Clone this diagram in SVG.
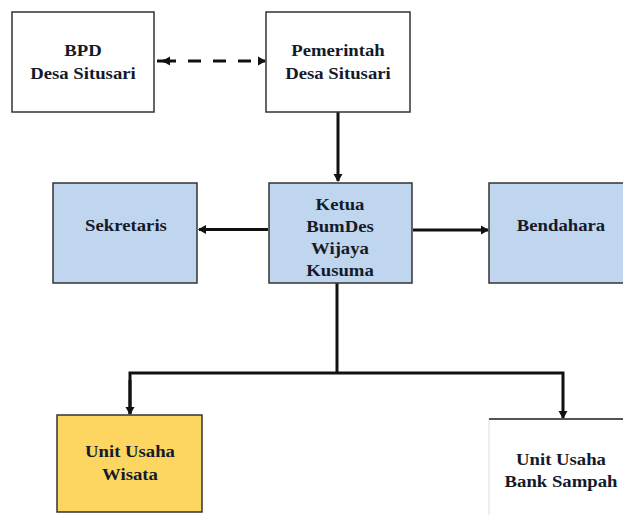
<svg xmlns="http://www.w3.org/2000/svg" width="623" height="515" viewBox="0 0 623 515">
<style>
.box{stroke:#333;stroke-width:1.5}
.w{fill:#fff}
.b{fill:#c0d6ee}
.y{fill:#fdd561}
.t text{font-weight:bold;font-size:16px;fill:#141a2a;text-anchor:middle}
.c{fill:none;stroke:#111;stroke-width:3}
</style>
<defs>
<marker id="ah" markerWidth="10" markerHeight="10" refX="7" refY="5" orient="auto" markerUnits="userSpaceOnUse">
<path d="M0,0.5 L8,5 L0,9.5 Z" fill="#111"/>
</marker>
<marker id="as" markerWidth="10" markerHeight="10" refX="1" refY="5" orient="auto" markerUnits="userSpaceOnUse">
<path d="M8,0.5 L0,5 L8,9.5 Z" fill="#111"/>
</marker>
</defs>
<rect width="623" height="515" fill="#fff"/>
<g id="connectors">
<line class="c" x1="163" y1="61" x2="265" y2="61" stroke-dasharray="13,12" marker-start="url(#as)" marker-end="url(#ah)"/>
<line x1="157" y1="61" x2="167" y2="61" stroke="#111" stroke-width="3"/>
<line class="c" x1="338" y1="112" x2="338" y2="181" marker-end="url(#ah)"/>
<line class="c" x1="268" y1="229.5" x2="199" y2="229.5" marker-end="url(#ah)"/>
<line class="c" x1="413" y1="230" x2="488" y2="230" marker-end="url(#ah)"/>
<polyline class="c" points="337,283 337,373"/>
<polyline class="c" points="130,414 130,373 563,373 563,418" marker-end="url(#ah)"/>
<line class="c" x1="130" y1="380" x2="130" y2="414" marker-end="url(#ah)"/>
</g>
<g font-family="Liberation Serif, Times New Roman, DejaVu Serif, serif">
<g id="bpd">
<rect class="box w" x="12" y="12" width="142" height="100"/>
<g class="t" transform="translate(83 0) scale(1.17 1)">
<text x="0" y="56">BPD</text>
<text x="0" y="79">Desa Situsari</text>
</g>
</g>
<g id="pemerintah">
<rect class="box w" x="266" y="12" width="144" height="100"/>
<g class="t" transform="translate(338 0) scale(1.17 1)">
<text x="0" y="56">Pemerintah</text>
<text x="0" y="79">Desa Situsari</text>
</g>
</g>
<g id="sekretaris">
<rect class="box b" x="53" y="183" width="144" height="100"/>
<g class="t" transform="translate(126 0) scale(1.17 1)">
<text x="0" y="231">Sekretaris</text>
</g>
</g>
<g id="ketua">
<rect class="box b" x="269" y="183" width="143" height="100"/>
<g class="t" transform="translate(340 0) scale(1.17 1)">
<text x="0" y="210">Ketua</text>
<text x="0" y="232">BumDes</text>
<text x="0" y="254">Wijaya</text>
<text x="0" y="276">Kusuma</text>
</g>
</g>
<g id="bendahara">
<rect class="box b" x="489" y="183" width="140" height="100"/>
<g class="t" transform="translate(561 0) scale(1.17 1)">
<text x="0" y="231">Bendahara</text>
</g>
</g>
<g id="wisata">
<rect class="box y" x="57" y="415" width="145" height="97"/>
<g class="t" transform="translate(130 0) scale(1.17 1)">
<text x="0" y="457">Unit Usaha</text>
<text x="0" y="480">Wisata</text>
</g>
</g>
<g id="banksampah">
<rect x="489" y="419" width="140" height="100" fill="#fff" stroke="#ddd" stroke-width="1"/>
<line x1="489" y1="419" x2="623" y2="419" stroke="#222" stroke-width="1.5"/>
<g class="t" transform="translate(561 0) scale(1.17 1)">
<text x="0" y="465">Unit Usaha</text>
<text x="0" y="487">Bank Sampah</text>
</g>
</g>
</g>
</svg>
